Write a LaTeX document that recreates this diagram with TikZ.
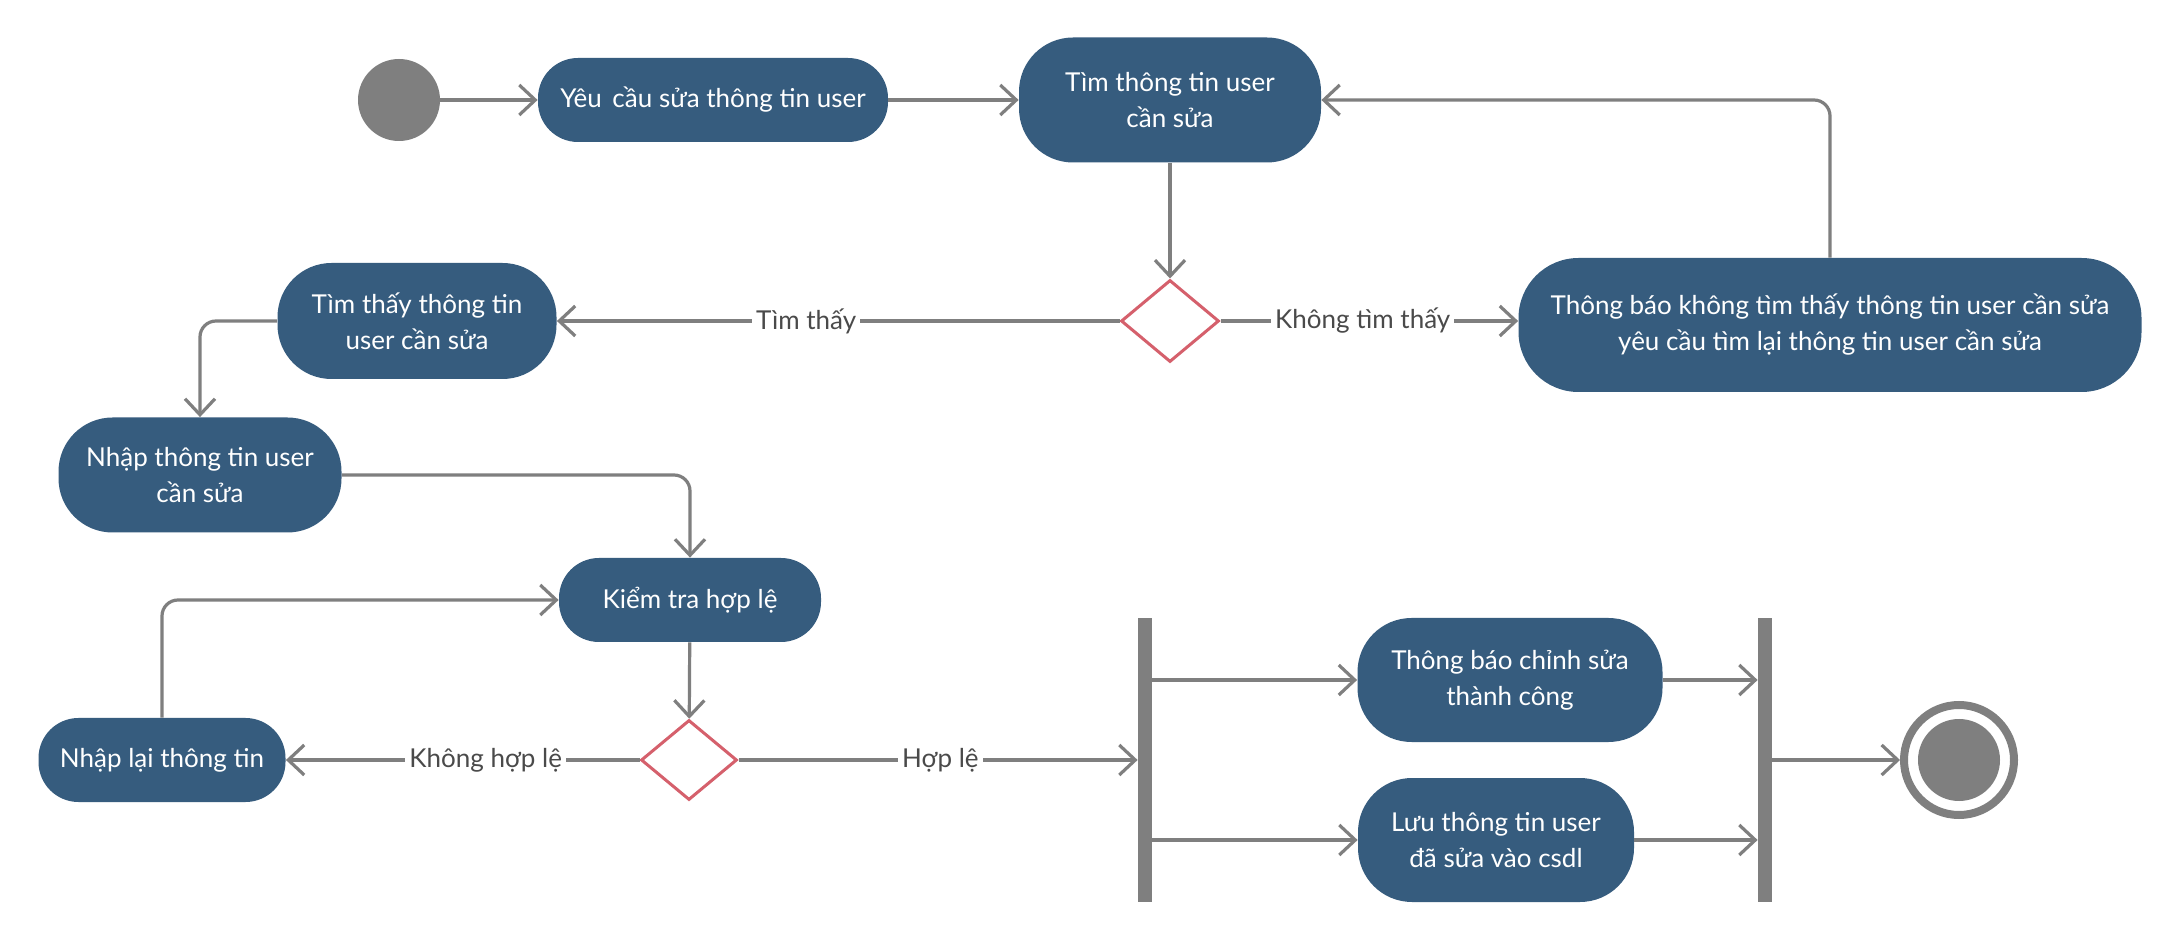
\documentclass[tikz,border=0pt]{standalone}
\usepackage{fontspec}
\setmainfont{Lato}
\usetikzlibrary{arrows.meta,shapes.geometric}
\definecolor{boxblue}{HTML}{365C7E}
\definecolor{lgray}{HTML}{7F7F7F}
\definecolor{dred}{HTML}{D5606C}
\definecolor{ltext}{HTML}{4A4A4A}
\begin{document}
\begin{tikzpicture}[x=0.5pt,y=-0.5pt,
  act/.style={fill=boxblue, draw=none, rounded corners=20pt, text=white, align=center,
    font=\fontsize{13}{18}\selectfont, inner sep=0pt},
  tall/.style={rounded corners=27pt},
  dec/.style={diamond, draw=dred, line width=1.5pt, fill=white, inner sep=0pt},
  bar/.style={rectangle, fill=lgray, draw=none, inner sep=0pt, minimum width=7pt, minimum height=142pt},
  conn/.style={draw=lgray, line width=1.6pt, -{Straight Barb[length=8pt,width=15pt]}},
  lbl/.style={fill=white, text=ltext, font=\fontsize{13}{16}\selectfont, inner sep=2pt}]
\fill[white] (0,0) rectangle (2180,940);
\useasboundingbox (0,0) rectangle (2180,940);

\node[circle, fill=lgray, minimum size=41pt, inner sep=0pt] (start) at (399,100) {};
\node[act, minimum width=175pt, minimum height=42pt] (yeucau) at (713,100) {Yêu\hspace{0.15em} cầu sửa thông tin user};
\node[act, tall, minimum width=151pt, minimum height=62.5pt] (tim) at (1170,100) {Tìm thông tin user\\cần sửa};
\node[dec, minimum width=49pt, minimum height=41pt] (d1) at (1170,321) {};
\node[act, tall, minimum width=139.5pt, minimum height=58pt] (timthay) at (417,321) {Tìm thấy thông tin\\user cần sửa};
\node[act, tall, minimum width=311.5pt, minimum height=67pt, rounded corners=30pt] (thongbao) at (1830,325) {Thông báo không tìm thấy thông tin user cần sửa\\yêu cầu tìm lại thông tin user cần sửa};
\node[act, tall, minimum width=141.5pt, minimum height=57.5pt] (nhap) at (200,475) {Nhập thông tin user\\cần sửa};
\node[act, minimum width=131pt, minimum height=42pt] (kiemtra) at (690,600) {Kiểm tra hợp lệ};
\node[dec, minimum width=48pt, minimum height=40pt] (d2) at (689,760) {};
\node[act, minimum width=123.5pt, minimum height=42pt] (nhaplai) at (162,760) {Nhập lại thông tin};
\node[bar] (bar1) at (1145,760) {};
\node[act, tall, minimum width=152.5pt, minimum height=62pt] (tbcs) at (1510,680) {Thông báo chỉnh sửa\\thành công};
\node[act, tall, minimum width=138pt, minimum height=62pt] (luu) at (1496,840) {Lưu thông tin user\\đã sửa vào csdl};
\node[bar] (bar2) at (1765,760) {};
\node[circle, draw=lgray, line width=4pt, fill=white, minimum size=55pt, inner sep=0pt] (end) at (1959,760) {};
\node[circle, fill=lgray, minimum size=41pt, inner sep=0pt] (endin) at (end.center) {};

\draw[conn] (start) -- (yeucau);
\draw[conn] (yeucau) -- (tim);
\draw[conn] (tim) -- (d1);
\draw[conn] (d1.west) -- node[lbl, pos=0.557] {Tìm thấy} (timthay.east);
\draw[conn] (d1.east) -- node[lbl, pos=0.478] {Không tìm thấy} (d1.east -| thongbao.west);
\draw[conn, rounded corners=8pt] (thongbao.north) |- (tim.east);
\draw[conn, rounded corners=8pt] (timthay.west) -| (nhap.north);
\draw[conn, rounded corners=8pt] (nhap.east) -| (kiemtra.north);
\draw[conn] (kiemtra) -- (d2);
\draw[conn] (d2.west) -- node[lbl, pos=0.435] {Không hợp lệ} (nhaplai.east);
\draw[conn, rounded corners=8pt] (nhaplai.north) |- (kiemtra.west);
\draw[conn] (d2.east) -- node[lbl, pos=0.506] {Hợp lệ} (bar1.west);
\draw[conn] (bar1.east |- tbcs.west) -- (tbcs.west);
\draw[conn] (bar1.east |- luu.west) -- (luu.west);
\draw[conn] (tbcs.east) -- (bar2.west |- tbcs.east);
\draw[conn] (luu.east) -- (bar2.west |- luu.east);
\draw[conn] (bar2.east) -- (end.west);
\end{tikzpicture}
\end{document}
